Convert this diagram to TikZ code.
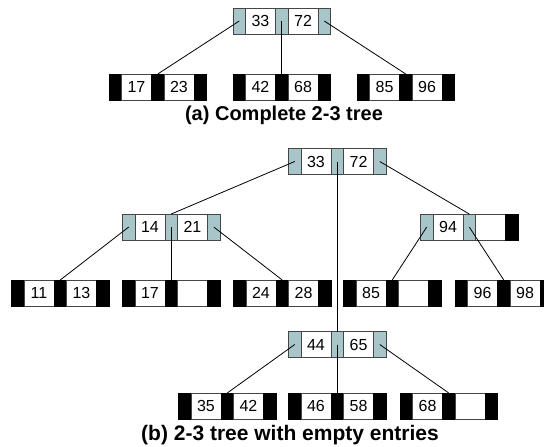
\documentclass[tikz,border=0pt]{standalone}
\usepackage{fontspec}
\setmainfont{Liberation Sans}
\definecolor{ptrgray}{RGB}{168,198,202}
\definecolor{cellline}{RGB}{70,70,70}
\tikzset{
 cellbase/.style={anchor=north west, inner sep=0pt, outer sep=0pt, minimum height=26pt, line width=0.7pt, draw=cellline},
 gcell/.style={cellbase, fill=ptrgray, minimum width=12.5pt},
 bcell/.style={cellbase, fill=black, draw=black, minimum width=12.5pt},
 wcell/.style={cellbase, fill=white, minimum width=30pt, font=\fontsize{16}{16}\selectfont},
 edge/.style={line width=0.8pt, black},
 caption/.style={font=\bfseries\fontsize{#1}{#1}\selectfont, inner sep=0pt, anchor=base}
}
\newcommand\treecells[8]{%
 \node[#4] (#1-p1) at (#2,#3) {};
 \node[wcell] (#1-k1) at (#2+12.5,#3) {#7};
 \node[#5] (#1-p2) at (#2+42.5,#3) {};
 \node[wcell] (#1-k2) at (#2+55,#3) {#8};
 \node[#6] (#1-p3) at (#2+85,#3) {};
}
\begin{document}
\begin{tikzpicture}[x=1pt,y=-1pt]
\clip (0,0) rectangle (544,447);
% (a)
\treecells{ra}{233}{8}{gcell}{gcell}{gcell}{33}{72}
\treecells{la1}{109}{74}{bcell}{bcell}{bcell}{17}{23}
\treecells{la2}{233}{74}{bcell}{bcell}{bcell}{42}{68}
\treecells{la3}{357}{74}{bcell}{bcell}{bcell}{85}{96}
\draw[edge] (ra-p1.center) -- (la1-p2.north);
\draw[edge] (ra-p2.center) -- (la2-p2.north);
\draw[edge] (ra-p3.center) -- (la3-p2.north);
\node[caption=20] (capa) at (284,120.5) {(a) Complete 2-3 tree};
% (b)
\treecells{rb}{288.5}{148.5}{gcell}{gcell}{gcell}{33}{72}
\treecells{n14}{122.5}{214}{gcell}{gcell}{gcell}{14}{21}
\treecells{n94}{420.5}{214}{gcell}{gcell}{bcell}{94}{}
\treecells{l11}{11.5}{280}{bcell}{bcell}{bcell}{11}{13}
\treecells{l17}{122.5}{280}{bcell}{bcell}{bcell}{17}{}
\treecells{l24}{233.5}{280}{bcell}{bcell}{bcell}{24}{28}
\treecells{l85}{343.5}{280}{bcell}{bcell}{bcell}{85}{}
\treecells{l96}{455}{280}{bcell}{bcell}{bcell}{96}{98}
\treecells{n44}{288.5}{331.5}{gcell}{gcell}{gcell}{44}{65}
\treecells{l35}{178.5}{393}{bcell}{bcell}{bcell}{35}{42}
\treecells{l46}{288.5}{393}{bcell}{bcell}{bcell}{46}{58}
\treecells{l68}{400}{393}{bcell}{bcell}{bcell}{68}{}
\draw[edge] (rb-p1.center) -- (n14-p2.north);
\draw[edge] (rb-p2.center) -- (n44-p2.north);
\draw[edge] (rb-p3.center) -- (n94-p2.north);
\draw[edge] (n14-p1.center) -- (l11-p2.north);
\draw[edge] (n14-p2.center) -- (l17-p2.north);
\draw[edge] (n14-p3.center) -- (l24-p2.north);
\draw[edge] (n94-p1.center) -- (l85-p2.north);
\draw[edge] (n94-p2.center) -- (l96-p2.north);
\draw[edge] (n44-p1.center) -- (l35-p2.north);
\draw[edge] (n44-p2.center) -- (l46-p2.north);
\draw[edge] (n44-p3.center) -- (l68-p2.north);
\node[caption=21] (capb) at (290,440.5) {(b) 2-3 tree with empty entries};
\end{tikzpicture}
\end{document}
